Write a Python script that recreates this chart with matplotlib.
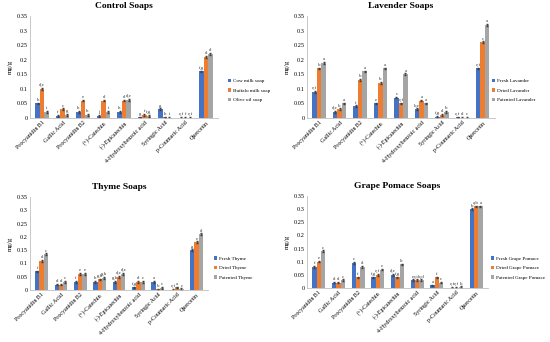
import numpy as np
import matplotlib.pyplot as plt

plt.rcParams['font.family'] = ['Liberation Serif', 'DejaVu Serif']

COMPOUNDS = ["Procyanidin B1", "Gallic Acid", "Procyanidin B2", "(+)-Catechin",
             "(-)-Epicatechin", "4-Hydroxybenzoic acid", "Syringic Acid",
             "p-Coumaric Acid", "Quercetin"]
COLORS = ["#4472C4", "#ED7D31", "#A5A5A5"]

# Control soaps
control_names = ["Cow milk soap", "Buffalo milk soap", "Olive oil soap"]
control_cow = [0.050, 0.008, 0.020, 0.008, 0.020, 0.002, 0.030, 0.001, 0.160]
control_buffalo = [0.100, 0.030, 0.060, 0.060, 0.060, 0.010, 0.002, 0.001, 0.210]
control_olive = [0.020, 0.010, 0.010, 0.020, 0.063, 0.008, 0.001, 0.001, 0.220]
control_letters = [["h", "f", "h", "j", "h", "g", "g", "e,f", "f,g"],
                   ["d,e", "c", "e", "d", "d", "f", "h", "f", "d"],
                   ["i", "g", "h", "i", "d,e", "f,g", "i", "e,f", "d"]]

# Lavender soaps
lav_names = ["Fresh Lavander", "Dried Lavander", "Patented Lavander"]
lav_fresh = [0.090, 0.020, 0.040, 0.050, 0.070, 0.030, 0.003, 0.002, 0.170]
lav_dried = [0.170, 0.030, 0.130, 0.120, 0.050, 0.060, 0.010, 0.001, 0.260]
lav_patent = [0.190, 0.050, 0.160, 0.170, 0.150, 0.050, 0.020, 0.001, 0.320]
lav_letters = [["e,f", "d,e", "f", "e", "c", "b,e", "f,g", "e,f", "e,f"],
               ["b", "b", "b", "b", "e,f", "a", "d", "d", "c"],
               ["a", "a", "a", "a", "a", "a", "b", "c", "a"]]

# Thyme soaps
thyme_names = ["Fresh Thyme", "Dried Thyme", "Patented Thyme"]
thyme_fresh = [0.070, 0.020, 0.030, 0.030, 0.030, 0.010, 0.030, 0.001, 0.150]
thyme_dried = [0.110, 0.020, 0.060, 0.040, 0.050, 0.030, 0.002, 0.010, 0.180]
thyme_patent = [0.135, 0.030, 0.060, 0.045, 0.060, 0.030, 0.008, 0.003, 0.210]
thyme_letters = [["f", "d", "f", "h", "g,h", "f,g", "a", "e,f", "g"],
                 ["d", "d", "e", "g,h", "d,e", "d", "b", "a", "e"],
                 ["c", "c", "e", "g,h", "d,e", "c", "c", "c", "d"]]

# Grape pomace soaps
grape_names = ["Fresh Grape Pomace", "Dried Grape Pomace", "Patented Grape Pomace"]
grape_fresh = [0.080, 0.020, 0.095, 0.040, 0.050, 0.030, 0.010, 0.001, 0.300]
grape_dried = [0.100, 0.020, 0.040, 0.050, 0.040, 0.030, 0.040, 0.001, 0.310]
grape_patent = [0.140, 0.030, 0.080, 0.070, 0.090, 0.030, 0.020, 0.003, 0.310]
grape_letters = [["f", "d", "c", "f,g", "d,e", "e", "a", "e,f", "b"],
                 ["e", "d", "f", "e,f", "f,g", "c,d", "f", "e,f", "a,b"],
                 ["c", "c", "d", "e", "b", "c,d", "c", "b", "a"]]

ERR = 0.003


def draw_panel(fig, rect, title, series, names, letters, legend_anchor):
    ax = fig.add_axes(rect)
    x = np.arange(len(COMPOUNDS))
    w = 0.22
    handles = []
    for i, (vals, col) in enumerate(zip(series, COLORS)):
        pos = x + (i - 1) * w
        b = ax.bar(pos, vals, w, color=col, yerr=ERR,
                   error_kw=dict(elinewidth=0.5, capsize=0.8, ecolor="#404040"))
        handles.append(b)
        for p, v, t in zip(pos, vals, letters[i]):
            ax.text(p, v + ERR + 0.003, t, ha="center", va="bottom",
                    fontsize=3.5, color="#333333")
    ax.set_ylim(0, 0.35)
    ax.set_xlim(-0.6, len(COMPOUNDS) - 0.4)
    ax.set_yticks(np.arange(0, 0.351, 0.05))
    ax.set_yticklabels(["0", "0.05", "0.1", "0.15", "0.2", "0.25", "0.3", "0.35"])
    ax.set_xticks(x)
    ax.set_xticklabels(COMPOUNDS, rotation=45, ha="right", rotation_mode="anchor")
    ax.tick_params(axis="x", labelsize=4.3, length=0, pad=1.5)
    ax.tick_params(axis="y", labelsize=4.5, length=0, pad=1.5)
    ax.set_ylabel("mg/g", fontsize=5, labelpad=3)
    for s in ["top", "right"]:
        ax.spines[s].set_visible(False)
    for s in ["left", "bottom"]:
        ax.spines[s].set_color("#BFBFBF")
        ax.spines[s].set_linewidth(0.6)
    ax.set_title(title, fontsize=6.8, fontweight="bold", pad=6)
    fig.legend(handles, names, loc="center left", bbox_to_anchor=legend_anchor,
               frameon=False, fontsize=3.7, handlelength=0.6, handleheight=0.6,
               handletextpad=0.4, labelspacing=1.0, borderpad=0)
    return ax


fig = plt.figure(figsize=(5.5, 3.42), dpi=100)

draw_panel(fig, [0.0545, 0.655, 0.342, 0.298], "Control Soaps",
           [control_cow, control_buffalo, control_olive], control_names,
           control_letters, (0.41, 0.735))
draw_panel(fig, [0.558, 0.655, 0.342, 0.298], "Lavender Soaps",
           [lav_fresh, lav_dried, lav_patent], lav_names,
           lav_letters, (0.89, 0.735))
draw_panel(fig, [0.0545, 0.152, 0.324, 0.272], "Thyme Soaps",
           [thyme_fresh, thyme_dried, thyme_patent], thyme_names,
           thyme_letters, (0.385, 0.216))
draw_panel(fig, [0.558, 0.158, 0.329, 0.269], "Grape Pomace Soaps",
           [grape_fresh, grape_dried, grape_patent], grape_names,
           grape_letters, (0.888, 0.216))

fig.savefig("out.png", dpi=100)
